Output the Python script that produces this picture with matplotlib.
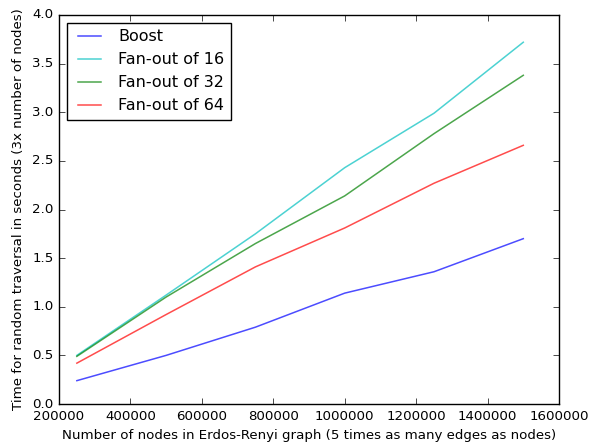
import matplotlib
matplotlib.use("Agg")
import matplotlib.pyplot as plt

plt.style.use("classic")
plt.rcParams["font.size"] = 9.6
plt.rcParams["font.family"] = ["DejaVu Sans"]

nodes = [250000, 500000, 750000, 1000000, 1250000, 1500000]
boost = [0.24, 0.50, 0.79, 1.14, 1.36, 1.70]
fan16 = [0.50, 1.12, 1.75, 2.43, 2.99, 3.72]
fan32 = [0.49, 1.10, 1.65, 2.14, 2.78, 3.38]
fan64 = [0.42, 0.92, 1.41, 1.81, 2.27, 2.66]

series = [
    ("Boost", boost, "b"),
    ("Fan-out of 16", fan16, "c"),
    ("Fan-out of 32", fan32, "g"),
    ("Fan-out of 64", fan64, "r"),
]

fig = plt.figure(figsize=(6.0, 4.46), dpi=100)
ax = fig.add_axes([59/600, 1-404/446, 500/600, 389/446])
for label, vals, col in series:
    ax.plot(nodes, vals, color=col, alpha=0.7, label=label, linewidth=1.1)

ax.set_xlim(200000, 1600000)
ax.set_ylim(0.0, 4.0)
ax.set_xlabel("Number of nodes in Erdos-Renyi graph (5 times as many edges as nodes)")
ax.set_ylabel("Time for random traversal in seconds (3x number of nodes)")
ax.ticklabel_format(style="plain", axis="x", useOffset=False)
ax.legend(loc="upper left")

fig.savefig("out.png", dpi=100)
